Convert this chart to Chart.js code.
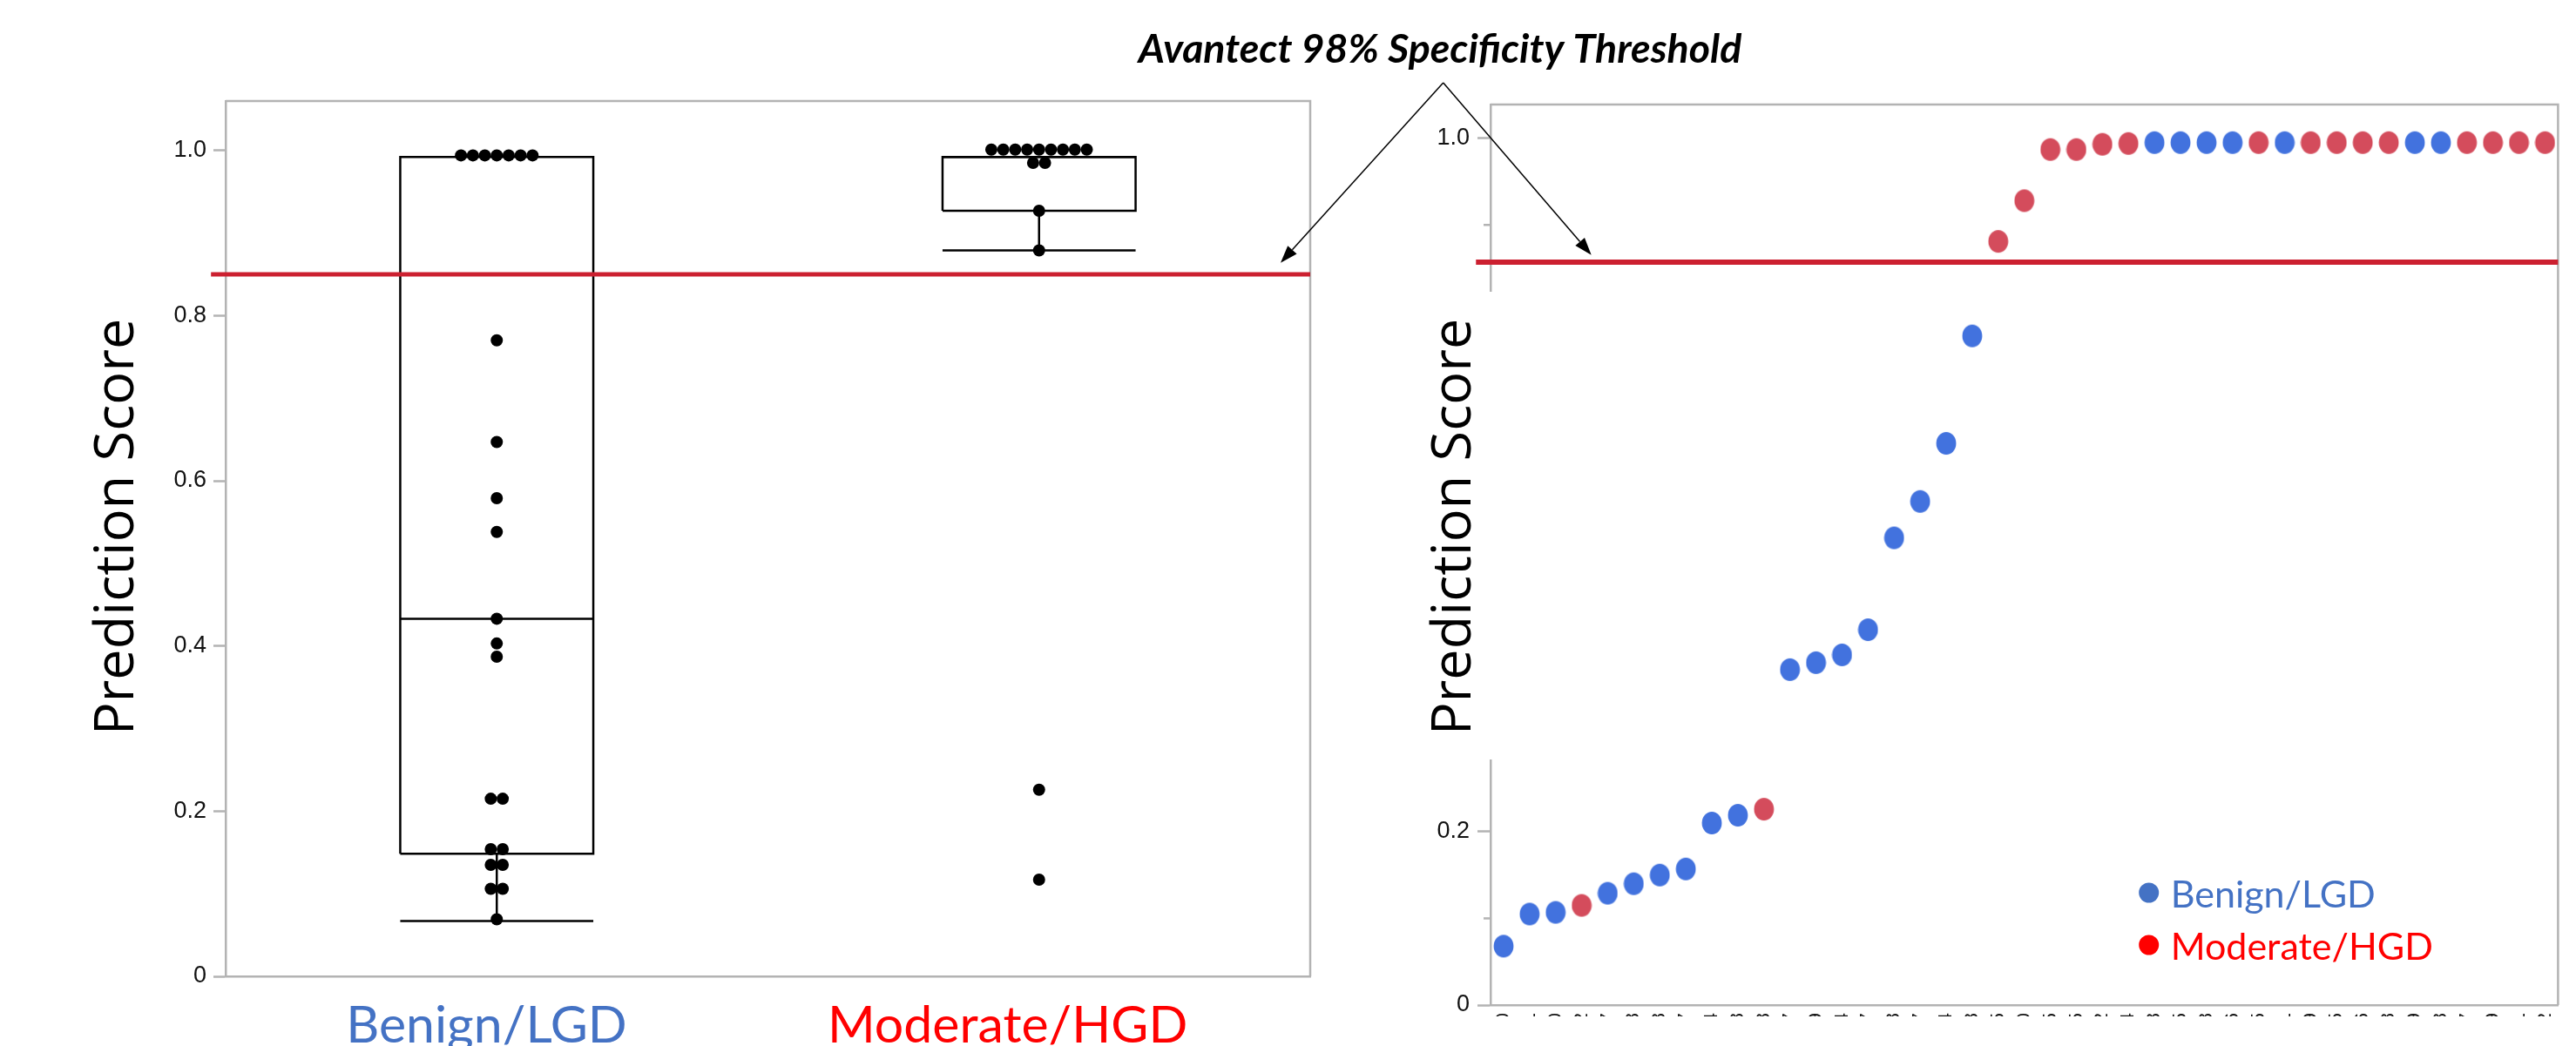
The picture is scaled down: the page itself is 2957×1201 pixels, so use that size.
<!DOCTYPE html>
<html>
<head>
<meta charset="utf-8">
<script src="https://cdn.jsdelivr.net/npm/chart.js@4.4.1/dist/chart.umd.min.js"></script>
<style>
  html, body { margin: 0; padding: 0; background: #fff; }
  body { width: 2957px; height: 1201px; position: relative; overflow: hidden; }
  #boxChart { position: absolute; left: 0; top: 0; }
  #rankChart { position: absolute; left: 1560px; top: 0; }
  #overlay { position: absolute; left: 0; top: 0; pointer-events: none; }
</style>
</head>
<body>
<canvas id="boxChart" width="1560" height="1201"></canvas>
<canvas id="rankChart" width="1397" height="1201"></canvas>
<canvas id="overlay" width="2957" height="1201"></canvas>
<script>
// --- Data: box plot (left) ---
const groups = ["Benign/LGD", "Moderate/HGD"];
const groupColors = ["#4472C4", "#FF0000"];
const benignScores = [0.994, 0.994, 0.994, 0.994, 0.994, 0.994, 0.994, 0.770, 0.647, 0.579, 0.538,
  0.433, 0.403, 0.387, 0.215, 0.215, 0.154, 0.154, 0.135, 0.135, 0.106, 0.106, 0.069];
const moderateScores = [1.001, 1.001, 1.001, 1.001, 1.001, 1.001, 1.001, 1.001, 1.001,
  0.985, 0.985, 0.927, 0.879, 0.226, 0.117];
const boxQ1 = [0.1485, 0.927];
const boxMedian = [0.433, 0.992];
const boxQ3 = [0.992, 0.992];
const whiskerLow = [0.067, 0.879];
const whiskerHigh = [0.992, 0.992];
const leftTicks = [0, 0.2, 0.4, 0.6, 0.8, 1.0];
const threshold = 0.85;

// --- Data: ranked scores (right) ---
const rankLabels = ["1010", "1041", "1120", "1152", "1207", "1238", "1318", "1357", "1404", "1438",
  "1478", "1507", "1529", "1564", "1597", "1618", "1647", "1684", "1708", "1735", "1760",
  "1795", "1825", "1852", "1874", "1908", "1935", "1958", "1986", "2015", "2041", "2069",
  "2095", "2126", "2158", "2179", "2208", "2237", "2269", "2291", "2312"];
const rankScores = [0.068, 0.105, 0.107, 0.115, 0.129, 0.140, 0.150, 0.157, 0.210, 0.219, 0.226,
  0.387, 0.395, 0.404, 0.433, 0.539, 0.581, 0.648, 0.772, 0.881, 0.928, 0.987, 0.987, 0.993,
  0.994, 0.995, 0.995, 0.995, 0.995, 0.995, 0.995, 0.995, 0.995, 0.995, 0.995, 0.995, 0.995,
  0.995, 0.995, 0.995, 0.995];
// 0 = Benign/LGD, 1 = Moderate/HGD
const rankGroup = [0, 0, 0, 1, 0, 0, 0, 0, 0, 0, 1, 0, 0, 0, 0, 0, 0, 0, 0, 1, 1, 1, 1, 1, 1,
  0, 0, 0, 0, 1, 0, 1, 1, 1, 1, 0, 0, 1, 1, 1, 1];
const rankMajorTicks = [0, 0.2, 0.4, 0.6, 0.8, 1.0];
const rankMinorTicks = [0.1, 0.3, 0.5, 0.7, 0.9];
const rankThreshold = 0.857;
const rankDotColors = ["#4272DE", "#D44C5C"];

Chart.defaults.animation = false;
Chart.defaults.font.family = '"Liberation Sans", Arial, sans-serif';

const AXIS_GREY = "#b3b3b3";
const HALF_BOX = 0.178;
const SWARM_STEP = 0.022;
const GROUP_LABEL_POS = [-0.019, 0.942]; // the group names sit a bit left of the boxes

// spread equal values side by side like a dot swarm
function swarm(scores, gi) {
  const counts = {}, seen = {};
  scores.forEach(v => counts[v] = (counts[v] || 0) + 1);
  return scores.map(v => {
    seen[v] = seen[v] === undefined ? 0 : seen[v] + 1;
    return { x: gi + (seen[v] - (counts[v] - 1) / 2) * SWARM_STEP, y: v };
  });
}

function segment(points) {
  return {
    type: "scatter", data: points, showLine: true, borderColor: "#000", borderWidth: 2.5,
    pointRadius: 0, borderJoinStyle: "miter", order: 3, clip: false
  };
}

function boxDatasets(i) {
  const l = i - HALF_BOX, r = i + HALF_BOX;
  return [
    segment([{x:l,y:boxQ1[i]},{x:r,y:boxQ1[i]},{x:r,y:boxQ3[i]},{x:l,y:boxQ3[i]},{x:l,y:boxQ1[i]}]),
    segment([{x:l,y:boxMedian[i]},{x:r,y:boxMedian[i]}]),
    segment([{x:i,y:boxQ1[i]},{x:i,y:whiskerLow[i]}]),
    segment([{x:l,y:whiskerLow[i]},{x:r,y:whiskerLow[i]}]),
    segment([{x:i,y:boxQ3[i]},{x:i,y:whiskerHigh[i]}])
  ];
}

// --- Plugins ---
const framePlugin = {
  id: "frame",
  beforeDatasetsDraw(chart) {
    const { ctx, chartArea: a } = chart;
    ctx.save();
    ctx.strokeStyle = AXIS_GREY; ctx.lineWidth = 2.5;
    ctx.beginPath();
    ctx.moveTo(a.left, a.top); ctx.lineTo(a.right, a.top); ctx.lineTo(a.right, a.bottom);
    ctx.stroke();
    ctx.restore();
  }
};

const minorTickPlugin = {
  id: "minorTicks",
  afterDraw(chart) {
    const { ctx, chartArea: a, scales } = chart;
    ctx.save();
    ctx.strokeStyle = AXIS_GREY; ctx.lineWidth = 2.5;
    rankMinorTicks.forEach(v => {
      const py = scales.y.getPixelForValue(v);
      ctx.beginPath(); ctx.moveTo(a.left - 8, py); ctx.lineTo(a.left, py); ctx.stroke();
    });
    ctx.restore();
  }
};

const yTitlePlugin = {
  id: "yTitle",
  afterDraw(chart, args, o) {
    const { ctx } = chart;
    ctx.save();
    if (o.box) {
      ctx.fillStyle = "#fff";
      ctx.fillRect(o.box[0], o.box[1], o.box[2], o.box[3]);
    }
    ctx.translate(o.x, o.y);
    ctx.rotate(-Math.PI / 2);
    ctx.font = '63px "Open Sans", sans-serif';
    ctx.fillStyle = "#000";
    ctx.textAlign = "center";
    ctx.textBaseline = "alphabetic";
    ctx.fillText("Prediction Score", 0, 0);
    ctx.restore();
  }
};

const groupLegendPlugin = {
  id: "groupLegend",
  afterDraw(chart, args, o) {
    const { ctx } = chart;
    ctx.save();
    ctx.font = '43px Lato, sans-serif';
    ctx.textBaseline = "alphabetic";
    groups.forEach((g, i) => {
      const cy = o.y + i * 60;
      ctx.fillStyle = groupColors[i];
      ctx.beginPath(); ctx.arc(o.x, cy, 11.5, 0, Math.PI * 2); ctx.fill();
      ctx.fillText(g, o.x + 25, cy + 17);
    });
    ctx.restore();
  }
};

// the right panel is cropped just under its axis
const cropPlugin = {
  id: "crop",
  afterDraw(chart, args, o) {
    const { ctx, width, height } = chart;
    ctx.save();
    ctx.fillStyle = "#fff";
    ctx.fillRect(0, o.y, width, height - o.y);
    ctx.restore();
  }
};

// --- Left: box plot with dots ---
const boxSets = [].concat(boxDatasets(0), boxDatasets(1));
new Chart(document.getElementById("boxChart"), {
  type: "scatter",
  data: {
    datasets: [
      { data: swarm(benignScores, 0).concat(swarm(moderateScores, 1)), pointRadius: 7,
        pointBackgroundColor: "#000", pointBorderWidth: 0, order: 1 },
      { type: "scatter", data: [{ x: -0.527, y: threshold }, { x: 1.5, y: threshold }], showLine: true,
        borderColor: "#CC2030", borderWidth: 5, pointRadius: 0, order: 2, clip: false }
    ].concat(boxSets)
  },
  plugins: [framePlugin, yTitlePlugin],
  options: {
    responsive: false,
    layout: { padding: { top: 116, right: 56, left: 0, bottom: 0 } },
    plugins: {
      legend: { display: false }, tooltip: { enabled: false },
      yTitle: { x: 153, y: 605 }
    },
    scales: {
      x: {
        type: "linear", min: -0.5, max: 1.5,
        afterBuildTicks: s => { s.ticks = GROUP_LABEL_POS.map(v => ({ value: v })); },
        afterFit: s => { s.height = 80; },
        ticks: { callback: (v, i) => groups[i], color: c => groupColors[c.index],
                 font: { family: "Lato", size: 59 }, padding: 22, maxRotation: 0 },
        grid: { display: false, drawTicks: false },
        border: { color: AXIS_GREY, width: 2.5 }
      },
      y: {
        min: 0, max: 1.0598,
        afterBuildTicks: s => { s.ticks = leftTicks.map(v => ({ value: v })); },
        afterFit: s => { s.width = 259; },
        ticks: { callback: v => v === 0 ? "0" : v.toFixed(1), color: "#111",
                 font: { size: 27 }, padding: 8 },
        grid: { drawOnChartArea: false, tickLength: 14, tickColor: AXIS_GREY, tickWidth: 2.5 },
        border: { color: AXIS_GREY, width: 2.5 }
      }
    }
  }
});

// --- Right: ranked scores ---
function dotImage(color) {
  const c = document.createElement("canvas");
  c.width = 24; c.height = 28;
  const g = c.getContext("2d");
  g.fillStyle = color;
  g.beginPath(); g.ellipse(12, 14, 11.4, 13, 0, 0, Math.PI * 2); g.fill();
  return c;
}
const dotImages = rankDotColors.map(dotImage);

new Chart(document.getElementById("rankChart"), {
  type: "scatter",
  data: {
    datasets: [
      { data: rankScores.map((v, i) => ({ x: i, y: v })), pointRadius: 12,
        pointStyle: rankGroup.map(g => dotImages[g]), order: 1 },
      { data: [{ x: -1.06, y: rankThreshold }, { x: rankScores.length - 0.5, y: rankThreshold }],
        showLine: true, borderColor: "#CC2030", borderWidth: 6, pointRadius: 0, order: 2, clip: false }
    ]
  },
  plugins: [framePlugin, minorTickPlugin, yTitlePlugin, groupLegendPlugin, cropPlugin],
  options: {
    responsive: false,
    layout: { padding: { top: 120, right: 1, left: 0, bottom: 0 } },
    plugins: {
      legend: { display: false }, tooltip: { enabled: false },
      yTitle: { x: 128, y: 605, box: [60, 335, 95, 537] },
      groupLegend: { x: 906.7, y: 1025 },
      crop: { y: 1167 }
    },
    scales: {
      x: {
        type: "linear", min: -0.5, max: rankScores.length - 0.5,
        afterBuildTicks: s => { s.ticks = rankLabels.map((l, i) => ({ value: i })); },
        afterFit: s => { s.height = 47; },
        ticks: { callback: v => rankLabels[v], autoSkip: false, minRotation: 90, maxRotation: 90,
                 color: "#111", font: { size: 22 }, padding: 9 },
        grid: { display: false, drawTicks: false },
        border: { color: AXIS_GREY, width: 2.5 }
      },
      y: {
        min: 0, max: 1.0389,
        afterBuildTicks: s => { s.ticks = rankMajorTicks.map(v => ({ value: v })); },
        afterFit: s => { s.width = 151; },
        ticks: { callback: v => v === 0 ? "0" : v.toFixed(1), color: "#111",
                 font: { size: 27 }, padding: 9 },
        grid: { drawOnChartArea: false, tickLength: 15, tickColor: AXIS_GREY, tickWidth: 2.5 },
        border: { color: AXIS_GREY, width: 2.5 }
      }
    }
  }
});

// --- Title and arrows across both panels ---
(function drawOverlay() {
  const ctx = document.getElementById("overlay").getContext("2d");
  ctx.font = 'italic bold 46.5px Lato, sans-serif';
  ctx.fillStyle = "#000";
  ctx.textAlign = "center";
  ctx.textBaseline = "alphabetic";
  ctx.fillText("Avantect 98% Specificity Threshold", 1653, 72);

  const apex = [1656.7, 95];
  [[1470, 301.7], [1826.7, 292.7]].forEach(tip => {
    const ang = Math.atan2(tip[1] - apex[1], tip[0] - apex[0]);
    const len = 20, hw = 7;
    const bx = tip[0] - len * Math.cos(ang), by = tip[1] - len * Math.sin(ang);
    ctx.strokeStyle = "#000"; ctx.lineWidth = 1.5;
    ctx.beginPath(); ctx.moveTo(apex[0], apex[1]); ctx.lineTo(bx, by); ctx.stroke();
    ctx.beginPath();
    ctx.moveTo(tip[0], tip[1]);
    ctx.lineTo(bx + hw * Math.sin(ang), by - hw * Math.cos(ang));
    ctx.lineTo(bx - hw * Math.sin(ang), by + hw * Math.cos(ang));
    ctx.closePath(); ctx.fill();
  });
})();
</script>
</body>
</html>
